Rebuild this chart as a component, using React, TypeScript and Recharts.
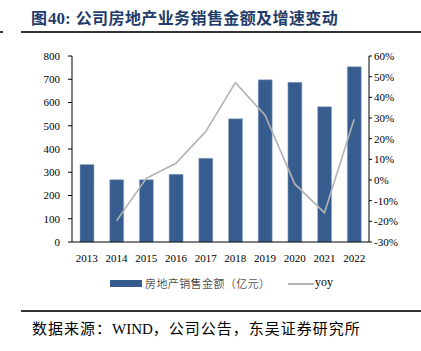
import { Bar, ComposedChart, Line, XAxis, YAxis } from "recharts";

const years = ["2013", "2014", "2015", "2016", "2017", "2018", "2019", "2020", "2021", "2022"];
const salesAmount = [333, 268, 268, 291, 360, 530, 698, 687, 582, 754];
const yoyGrowth = [null, -19.7, 0.8, 8.1, 23.4, 47.1, 31.4, -1.9, -15.8, 29.4];
const leftTicks = [0, 100, 200, 300, 400, 500, 600, 700, 800];
const rightTicks = [-30, -20, -10, 0, 10, 20, 30, 40, 50, 60];
const edgeTicks = [0, 1, 2, 3, 4, 5, 6, 7, 8, 9, 10];

const data = years.map((year, i) => ({
  year,
  idx: i,
  sales: salesAmount[i],
  yoy: yoyGrowth[i],
}));

const BAR_COLOR = "#375d8f";
const LINE_COLOR = "#b3b3b3";
const tickStyle = { fontFamily: "'Liberation Serif', serif", fontSize: 11, fill: "#000" };

function LegendBox() {
  return (
    <div
      style={{
        position: "absolute",
        left: 110,
        top: 275,
        display: "flex",
        alignItems: "center",
        fontSize: 11,
        color: "#000",
        whiteSpace: "nowrap",
      }}
    >
      <span style={{ display: "inline-block", width: 32, height: 7, background: BAR_COLOR, marginRight: 3 }} />
      <span style={{ fontFamily: "'Noto Sans CJK SC', sans-serif", fontWeight: 300, letterSpacing: 0.4 }}>
        房地产销售金额（亿元）
      </span>
      <span
        style={{
          position: "absolute",
          left: 178,
          top: 8,
          width: 26,
          height: 1.5,
          background: LINE_COLOR,
        }}
      />
      <span
        style={{ position: "absolute", left: 205, top: 0, fontFamily: "'Liberation Serif', serif", fontSize: 12 }}
      >
        yoy
      </span>
    </div>
  );
}

export default function App() {
  return (
    <div style={{ position: "absolute", left: 0, top: 0, width: 421, height: 351, background: "#fff" }}>
      <div
        style={{
          position: "absolute",
          left: 31,
          top: 5,
          fontFamily: "'Noto Sans CJK SC', sans-serif",
          fontWeight: 700,
          fontSize: 16,
          color: "#1f3d6b",
          whiteSpace: "nowrap",
        }}
      >
        图
        <span style={{ fontFamily: "'Liberation Serif', serif", fontSize: 17, marginLeft: 1, marginRight: 5 }}>40:</span>
        <span style={{ letterSpacing: 0.4 }}>公司房地产业务销售金额及增速变动</span>
      </div>
      <div style={{ position: "absolute", left: 0, top: 31, width: 3, height: 2, background: "#333" }} />
      <div style={{ position: "absolute", left: 21, top: 31, width: 400, height: 2, background: "#333" }} />

      <div style={{ position: "absolute", left: 0, top: 0 }}>
        <ComposedChart
          width={421}
          height={351}
          data={data}
          margin={{ top: 56, right: 0, bottom: 89, left: 0 }}
        >
          <XAxis
            xAxisId="edge"
            type="number"
            dataKey="idx"
            domain={[0, 10]}
            ticks={edgeTicks}
            tick={false}
            height={0}
            axisLine={false}
            tickLine={{ stroke: "#000" }}
            tickSize={3}
          />
          <XAxis
            dataKey="year"
            height={20}
            tick={tickStyle}
            tickLine={false}
            axisLine={{ stroke: "#000" }}
            tickMargin={6}
            interval={0}
          />
          <YAxis
            yAxisId="left"
            width={72}
            domain={[0, 800]}
            ticks={leftTicks}
            tick={tickStyle}
            axisLine={{ stroke: "#000" }}
            tickLine={{ stroke: "#000" }}
            tickSize={4}
            tickMargin={8}
          />
          <YAxis
            yAxisId="right"
            orientation="right"
            width={52}
            domain={[-30, 60]}
            ticks={rightTicks}
            tickFormatter={(v: number) => `${v}%`}
            tick={{ ...tickStyle, textAnchor: "start" }}
            axisLine={{ stroke: "#000" }}
            tickLine={{ stroke: "#000" }}
            tickSize={3}
            tickMargin={2}
          />
          <Bar
            yAxisId="left"
            dataKey="sales"
            name="房地产销售金额（亿元）"
            fill={BAR_COLOR}
            stroke="#9db0cc"
            strokeWidth={0.5}
            barSize={14}
            isAnimationActive={false}
          />
          <Line
            yAxisId="right"
            dataKey="yoy"
            name="yoy"
            stroke={LINE_COLOR}
            strokeWidth={1.6}
            dot={false}
            isAnimationActive={false}
          />
        </ComposedChart>
      </div>

      <LegendBox />

      <div style={{ position: "absolute", left: 21, top: 310, width: 400, height: 2, background: "#333" }} />
      <div
        style={{
          position: "absolute",
          left: 32,
          top: 317,
          fontFamily: "'Noto Sans CJK SC', sans-serif",
          fontSize: 15,
          letterSpacing: 1,
          color: "#000",
          whiteSpace: "nowrap",
        }}
      >
        数据来源：<span style={{ fontFamily: "'Liberation Serif', serif", letterSpacing: 0 }}>WIND</span>，公司公告，东吴证券研究所
      </div>
    </div>
  );
}
